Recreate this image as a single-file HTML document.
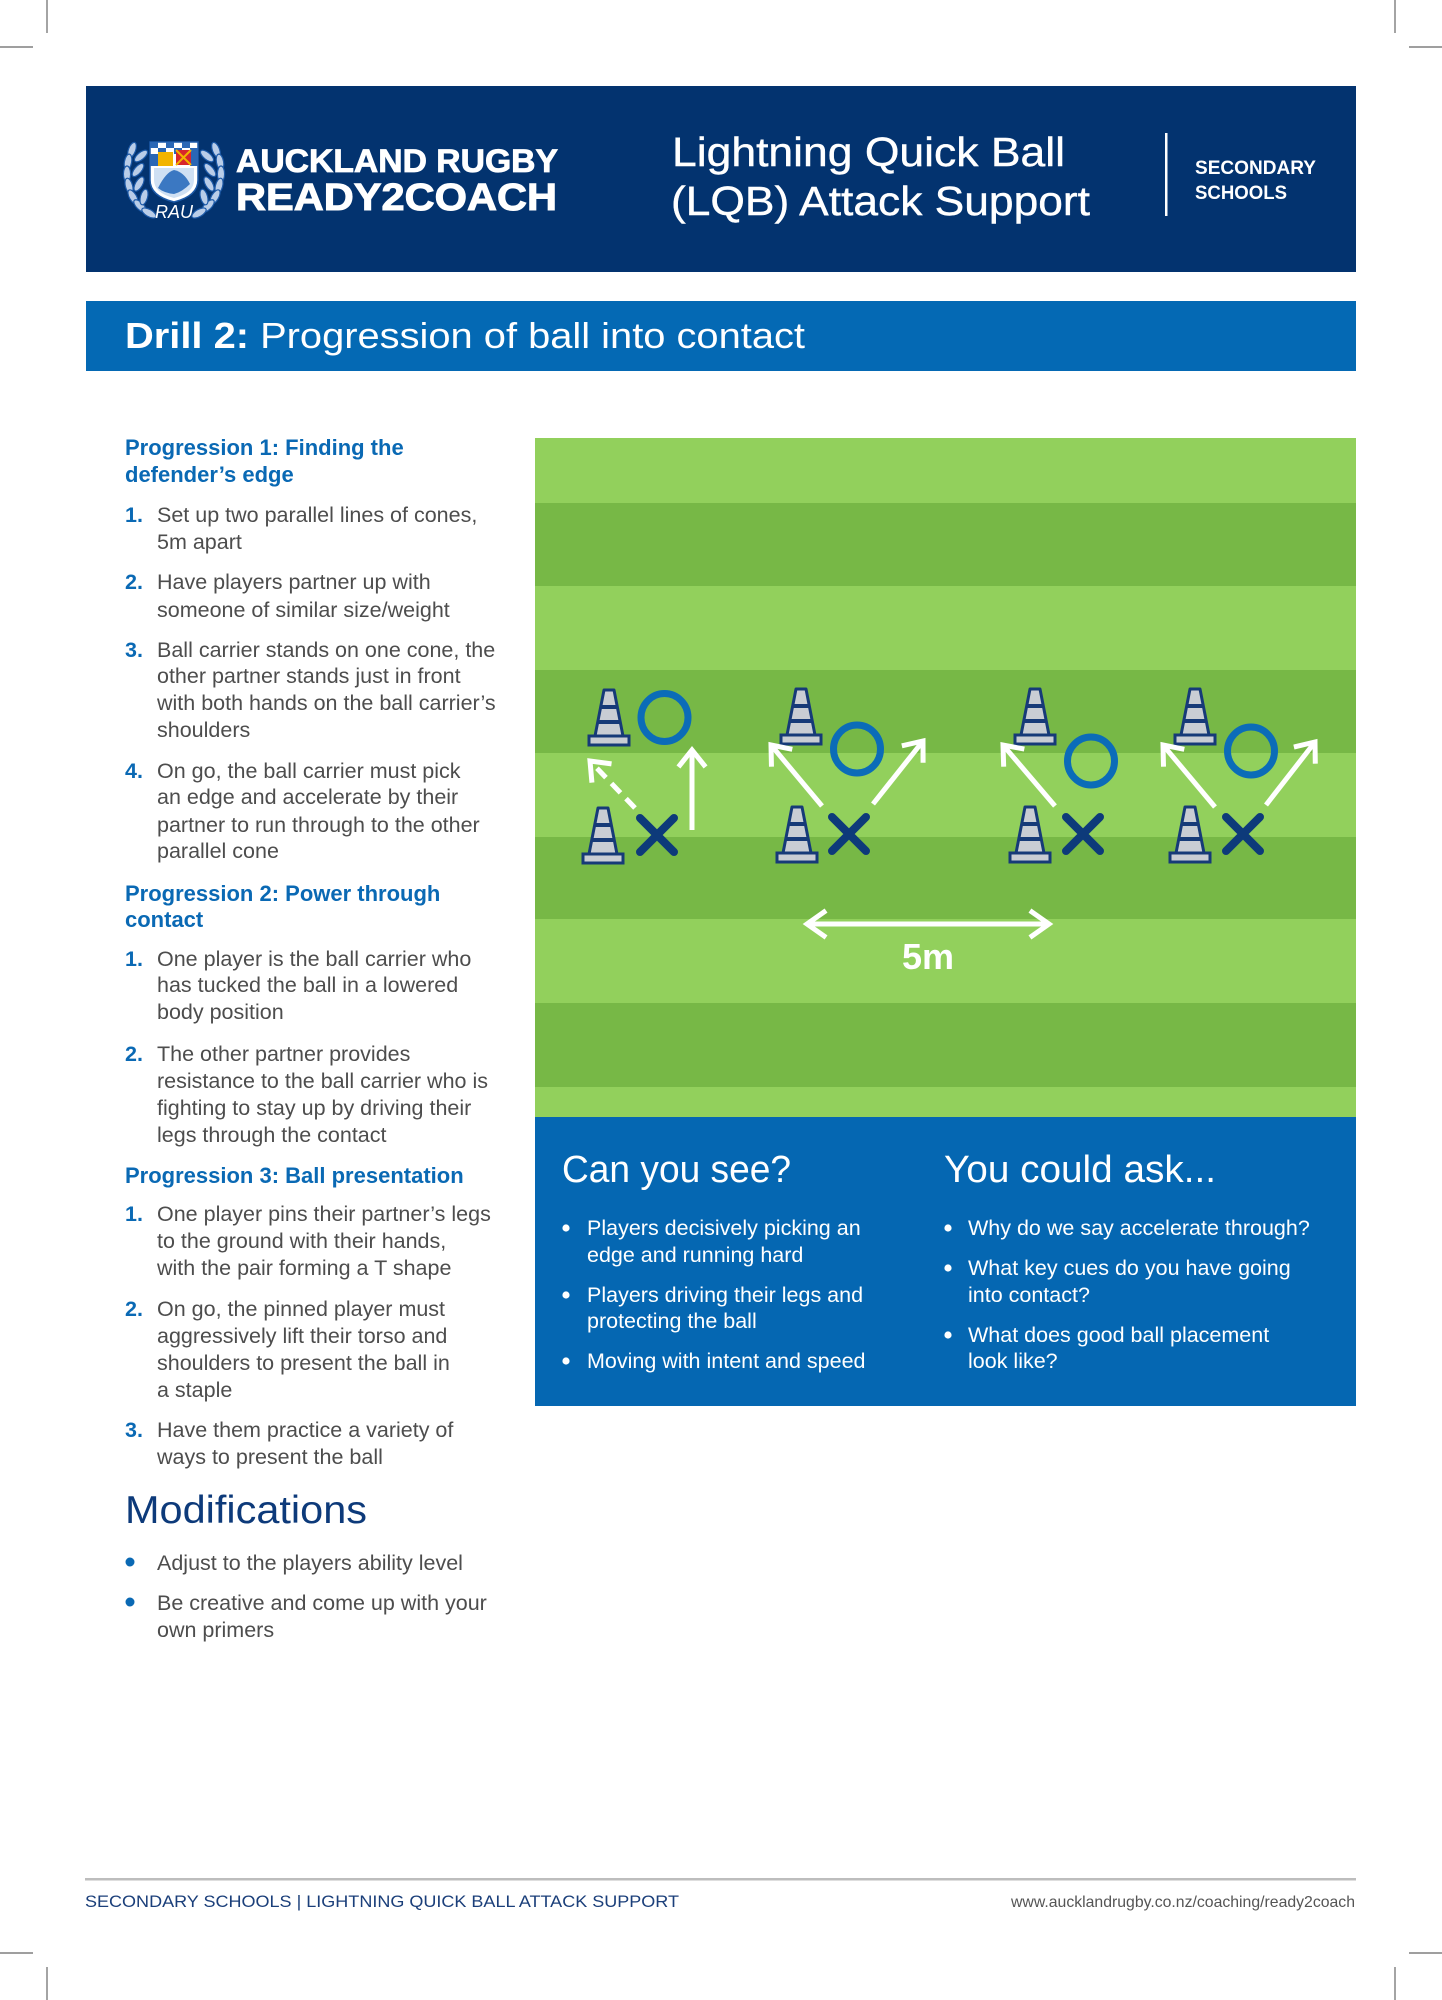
<!DOCTYPE html>
<html>
<head>
<meta charset="utf-8">
<style>
html,body{margin:0;padding:0;background:#fff;}
body{width:1442px;height:2000px;overflow:hidden;}
svg{display:block;}
text{font-family:"Liberation Sans",Arial,sans-serif;}
</style>
</head>
<body>
<svg xmlns="http://www.w3.org/2000/svg" width="1442" height="2000" viewBox="0 0 1442 2000">
<defs>
  <marker id="ah" markerUnits="userSpaceOnUse" markerWidth="44" markerHeight="44" viewBox="-22 -22 44 44" refX="0" refY="0" orient="auto">
    <path d="M-15,-12 L0,0 L-15,12" fill="none" stroke="#fff" stroke-width="5" stroke-linecap="square" stroke-linejoin="miter"/>
  </marker>
  <marker id="ah2" markerUnits="userSpaceOnUse" markerWidth="44" markerHeight="44" viewBox="-22 -22 44 44" refX="0" refY="0" orient="auto-start-reverse">
    <path d="M-17,-12 L0,0 L-17,12" fill="none" stroke="#fff" stroke-width="5" stroke-linecap="square" stroke-linejoin="miter"/>
  </marker>
  <g id="cone">
    <polygon points="-5,0 5,0 14,46 -14,46" fill="#c9cdd4" stroke="#163a78" stroke-width="3" stroke-linejoin="round"/>
    <line x1="-8.5" y1="17" x2="8.5" y2="17" stroke="#163a78" stroke-width="4"/>
    <line x1="-11.5" y1="32" x2="11.5" y2="32" stroke="#163a78" stroke-width="4"/>
    <rect x="-20" y="46" width="40" height="9" fill="#c9cdd4" stroke="#163a78" stroke-width="3"/>
  </g>
  <g id="xm">
    <path d="M-17,-17 L17,17 M17,-17 L-17,17" stroke="#0d3a7a" stroke-width="8" stroke-linecap="round" fill="none"/>
  </g>
  <g id="leafL">
    <ellipse cx="0" cy="0" rx="8" ry="3.6" fill="#b9cde8" stroke="#1d5aa8" stroke-width="1.2"/>
  </g>
</defs>

<!-- crop marks -->
<g stroke="#666" stroke-width="1.2">
  <line x1="47" y1="0" x2="47" y2="33"/>
  <line x1="0" y1="47" x2="33" y2="47"/>
  <line x1="1395" y1="0" x2="1395" y2="33"/>
  <line x1="1409" y1="47" x2="1442" y2="47"/>
  <line x1="47" y1="1967" x2="47" y2="2000"/>
  <line x1="0" y1="1953" x2="33" y2="1953"/>
  <line x1="1395" y1="1967" x2="1395" y2="2000"/>
  <line x1="1409" y1="1953" x2="1442" y2="1953"/>
</g>

<!-- header -->
<rect x="86" y="86" width="1270" height="186" fill="#03336f"/>

<!-- crest -->
<g>
  <!-- laurels left -->
  <use href="#leafL" transform="translate(132,150) rotate(-70)"/>
  <use href="#leafL" transform="translate(128,162) rotate(-80)"/>
  <use href="#leafL" transform="translate(127,174) rotate(-90)"/>
  <use href="#leafL" transform="translate(129,186) rotate(-105)"/>
  <use href="#leafL" transform="translate(133,197) rotate(-120)"/>
  <use href="#leafL" transform="translate(140,206) rotate(-135)"/>
  <use href="#leafL" transform="translate(149,213) rotate(-150)"/>
  <use href="#leafL" transform="translate(141,156) rotate(-40)"/>
  <use href="#leafL" transform="translate(138,170) rotate(-50)"/>
  <use href="#leafL" transform="translate(139,184) rotate(-60)"/>
  <use href="#leafL" transform="translate(144,197) rotate(-75)"/>
  <!-- laurels right -->
  <use href="#leafL" transform="translate(216,150) rotate(70)"/>
  <use href="#leafL" transform="translate(220,162) rotate(80)"/>
  <use href="#leafL" transform="translate(221,174) rotate(90)"/>
  <use href="#leafL" transform="translate(219,186) rotate(105)"/>
  <use href="#leafL" transform="translate(215,197) rotate(120)"/>
  <use href="#leafL" transform="translate(208,206) rotate(135)"/>
  <use href="#leafL" transform="translate(199,213) rotate(150)"/>
  <use href="#leafL" transform="translate(207,156) rotate(40)"/>
  <use href="#leafL" transform="translate(210,170) rotate(50)"/>
  <use href="#leafL" transform="translate(209,184) rotate(60)"/>
  <use href="#leafL" transform="translate(204,197) rotate(75)"/>
  <!-- shield -->
  <path d="M150,142 L198,142 L198,180 Q198,196 174,202 Q150,196 150,180 Z" fill="#ffffff" stroke="#1d5aa8" stroke-width="1.5"/>
  <g fill="#2a67b5">
    <rect x="150" y="142" width="8" height="6"/><rect x="166" y="142" width="8" height="6"/><rect x="182" y="142" width="8" height="6"/>
    <rect x="158" y="148" width="8" height="6"/><rect x="174" y="148" width="8" height="6"/><rect x="190" y="148" width="8" height="6"/>
    <rect x="150" y="154" width="8" height="6"/><rect x="190" y="154" width="8" height="6"/>
    <rect x="150" y="160" width="8" height="6"/><rect x="190" y="160" width="8" height="6"/>
  </g>
  <rect x="158" y="152" width="15" height="14" fill="#f2b400"/>
  <rect x="176" y="150" width="15" height="15" fill="#d8262c"/>
  <path d="M176,150 L191,165 M191,150 L176,165" stroke="#f2b400" stroke-width="2"/>
  <path d="M154,168 L194,168 L194,180 Q194,193 174,198 Q154,193 154,180 Z" fill="#cfe0f3"/>
  <path d="M158,188 Q166,172 174,170 Q184,172 190,184 Q182,192 174,194 Q164,193 158,188 Z" fill="#3b78c2"/>
  <text x="174" y="218" font-family="'Liberation Serif',serif" font-size="18" fill="#ffffff" text-anchor="middle" font-style="italic">RAU</text>
</g>

<text x="236" y="172" font-size="32" font-weight="bold" fill="#fff" stroke="#fff" stroke-width="0.8" textLength="322" lengthAdjust="spacingAndGlyphs">AUCKLAND RUGBY</text>
<text x="236" y="210" font-size="38" font-weight="bold" fill="#fff" stroke="#fff" stroke-width="1" textLength="321" lengthAdjust="spacingAndGlyphs">READY2COACH</text>

<text x="672" y="166" font-size="41" fill="#fff" stroke="#fff" stroke-width="0.4" textLength="393" lengthAdjust="spacingAndGlyphs">Lightning Quick Ball</text>
<text x="671" y="215" font-size="41" fill="#fff" stroke="#fff" stroke-width="0.4" textLength="419" lengthAdjust="spacingAndGlyphs">(LQB) Attack Support</text>

<rect x="1165" y="133" width="2.5" height="83" fill="#fff"/>
<text x="1195" y="174" font-size="19" font-weight="bold" fill="#fff" textLength="121" lengthAdjust="spacingAndGlyphs">SECONDARY</text>
<text x="1195" y="199" font-size="19" font-weight="bold" fill="#fff" textLength="92" lengthAdjust="spacingAndGlyphs">SCHOOLS</text>

<!-- drill bar -->
<rect x="86" y="301" width="1270" height="70" fill="#0469b4"/>
<text x="125" y="348" font-size="36" fill="#fff" textLength="680" lengthAdjust="spacingAndGlyphs"><tspan font-weight="bold">Drill 2:</tspan> Progression of ball into contact</text>

<!-- field -->
<rect x="535" y="438" width="821" height="679" fill="#92d05c"/>
<g fill="#77b846">
  <rect x="535" y="503" width="821" height="83"/>
  <rect x="535" y="670" width="821" height="83"/>
  <rect x="535" y="837" width="821" height="82"/>
  <rect x="535" y="1003" width="821" height="84"/>
</g>

<!-- cones -->
<use href="#cone" x="609" y="690"/>
<use href="#cone" x="603" y="808"/>
<use href="#cone" x="801" y="689"/>
<use href="#cone" x="797" y="807"/>
<use href="#cone" x="1035" y="689"/>
<use href="#cone" x="1030" y="807"/>
<use href="#cone" x="1195" y="689"/>
<use href="#cone" x="1190" y="807"/>

<!-- circles -->
<g fill="none" stroke="#0b6cb8" stroke-width="7">
  <ellipse cx="664.5" cy="717.5" rx="23.5" ry="24"/>
  <ellipse cx="857" cy="749" rx="23.5" ry="24"/>
  <ellipse cx="1091" cy="761" rx="23.5" ry="24"/>
  <ellipse cx="1251" cy="751" rx="23.5" ry="24"/>
</g>

<!-- X marks -->
<use href="#xm" x="657" y="835"/>
<use href="#xm" x="849" y="834"/>
<use href="#xm" x="1083" y="834"/>
<use href="#xm" x="1243" y="834"/>

<!-- arrows -->
<g stroke="#fff" stroke-width="5" fill="none">
  <line x1="635" y1="808" x2="590" y2="761" stroke-dasharray="13 8" marker-end="url(#ah)"/>
  <line x1="692" y1="830" x2="692" y2="750" marker-end="url(#ah)"/>
  <line x1="822" y1="806" x2="771" y2="745" marker-end="url(#ah)"/>
  <line x1="873" y1="804" x2="923" y2="741" marker-end="url(#ah)"/>
  <line x1="1055" y1="806" x2="1003" y2="745" marker-end="url(#ah)"/>
  <line x1="1215" y1="807" x2="1163" y2="745" marker-end="url(#ah)"/>
  <line x1="1266" y1="805" x2="1315" y2="742" marker-end="url(#ah)"/>
  <line x1="807" y1="924" x2="1049" y2="924" marker-start="url(#ah2)" marker-end="url(#ah2)"/>
</g>
<text x="928" y="969" font-size="36" font-weight="bold" fill="#fff" text-anchor="middle">5m</text>

<!-- blue box -->
<rect x="535" y="1117" width="821" height="289" fill="#0567b2"/>
<text x="562" y="1182" font-size="38" fill="#fff" textLength="229" lengthAdjust="spacingAndGlyphs">Can you see?</text>
<text x="944" y="1182" font-size="38" fill="#fff" textLength="272" lengthAdjust="spacingAndGlyphs">You could ask...</text>
<g fill="#fff">
  <circle cx="566" cy="1228" r="3.6"/>
  <circle cx="566" cy="1295" r="3.6"/>
  <circle cx="566" cy="1361" r="3.6"/>
  <circle cx="948" cy="1228" r="3.6"/>
  <circle cx="948" cy="1268" r="3.6"/>
  <circle cx="948" cy="1335" r="3.6"/>
</g>
<g font-size="21.5" fill="#fff">
  <text x="587" y="1235">Players decisively picking an</text>
  <text x="587" y="1262">edge and running hard</text>
  <text x="587" y="1302">Players driving their legs and</text>
  <text x="587" y="1328">protecting the ball</text>
  <text x="587" y="1368">Moving with intent and speed</text>
  <text x="968" y="1235">Why do we say accelerate through?</text>
  <text x="968" y="1275">What key cues do you have going</text>
  <text x="968" y="1302">into contact?</text>
  <text x="968" y="1342">What does good ball placement</text>
  <text x="968" y="1368">look like?</text>
</g>

<!-- left column -->
<g font-size="22" font-weight="bold" fill="#0a69b4">
  <text x="125" y="455">Progression 1: Finding the</text>
  <text x="125" y="482">defender’s edge</text>
  <text x="125" y="901">Progression 2: Power through</text>
  <text x="125" y="927">contact</text>
  <text x="125" y="1183">Progression 3: Ball presentation</text>
</g>
<g font-size="21.5" font-weight="bold" fill="#0a69b4">
  <text x="125" y="522">1.</text>
  <text x="125" y="589">2.</text>
  <text x="125" y="657">3.</text>
  <text x="125" y="778">4.</text>
  <text x="125" y="966">1.</text>
  <text x="125" y="1061">2.</text>
  <text x="125" y="1221">1.</text>
  <text x="125" y="1316">2.</text>
  <text x="125" y="1437">3.</text>
</g>
<g font-size="21.5" fill="#4d4d4d">
  <text x="157" y="522">Set up two parallel lines of cones,</text>
  <text x="157" y="549">5m apart</text>
  <text x="157" y="589">Have players partner up with</text>
  <text x="157" y="617">someone of similar size/weight</text>
  <text x="157" y="657">Ball carrier stands on one cone, the</text>
  <text x="157" y="683">other partner stands just in front</text>
  <text x="157" y="710">with both hands on the ball carrier’s</text>
  <text x="157" y="737">shoulders</text>
  <text x="157" y="778">On go, the ball carrier must pick</text>
  <text x="157" y="804">an edge and accelerate by their</text>
  <text x="157" y="832">partner to run through to the other</text>
  <text x="157" y="858">parallel cone</text>

  <text x="157" y="966">One player is the ball carrier who</text>
  <text x="157" y="992">has tucked the ball in a lowered</text>
  <text x="157" y="1019">body position</text>
  <text x="157" y="1061">The other partner provides</text>
  <text x="157" y="1088">resistance to the ball carrier who is</text>
  <text x="157" y="1115">fighting to stay up by driving their</text>
  <text x="157" y="1142">legs through the contact</text>

  <text x="157" y="1221">One player pins their partner’s legs</text>
  <text x="157" y="1248">to the ground with their hands,</text>
  <text x="157" y="1275">with the pair forming a T shape</text>
  <text x="157" y="1316">On go, the pinned player must</text>
  <text x="157" y="1343">aggressively lift their torso and</text>
  <text x="157" y="1370">shoulders to present the ball in</text>
  <text x="157" y="1397">a staple</text>
  <text x="157" y="1437">Have them practice a variety of</text>
  <text x="157" y="1464">ways to present the ball</text>

  <text x="157" y="1570">Adjust to the players ability level</text>
  <text x="157" y="1610">Be creative and come up with your</text>
  <text x="157" y="1637">own primers</text>
</g>
<text x="125" y="1523" font-size="39" fill="#0d3a7a" textLength="242" lengthAdjust="spacingAndGlyphs">Modifications</text>
<circle cx="130" cy="1562" r="4.5" fill="#0a69b4"/>
<circle cx="130" cy="1602" r="4.5" fill="#0a69b4"/>

<!-- footer -->
<rect x="85" y="1878" width="1271" height="2.5" fill="#bdbdbd"/>
<text x="85" y="1907" font-size="16.5" fill="#1b3f7a" textLength="594" lengthAdjust="spacingAndGlyphs">SECONDARY SCHOOLS | LIGHTNING QUICK BALL ATTACK SUPPORT</text>
<text x="1011" y="1907" font-size="16" fill="#555" textLength="344" lengthAdjust="spacingAndGlyphs">www.aucklandrugby.co.nz/coaching/ready2coach</text>
</svg>
</body>
</html>
